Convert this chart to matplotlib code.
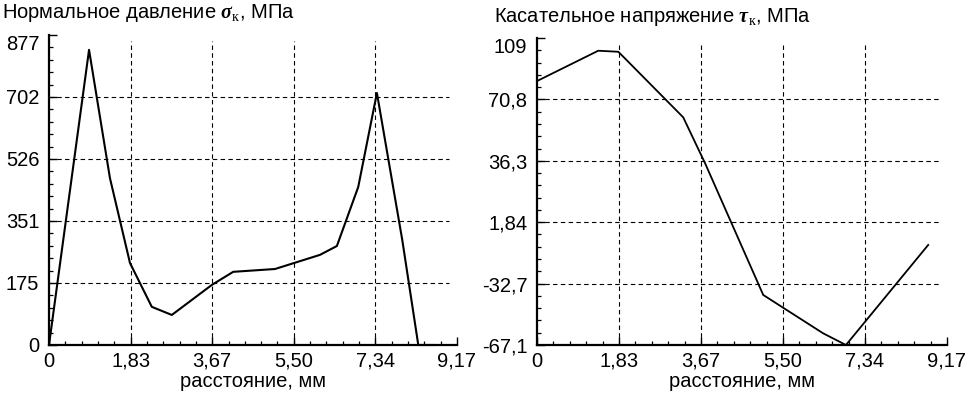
import matplotlib
matplotlib.use("Agg")
import matplotlib.pyplot as plt
import numpy as np

plt.rcParams['font.family'] = ['Liberation Sans', 'DejaVu Sans']
plt.rcParams['mathtext.fontset'] = 'custom'
plt.rcParams['mathtext.rm'] = 'Liberation Serif'
plt.rcParams['mathtext.it'] = 'Liberation Serif:italic'
plt.rcParams['mathtext.bf'] = 'Liberation Serif:bold'
if 'mathtext.bfit' in plt.rcParams:
    plt.rcParams['mathtext.bfit'] = 'Liberation Serif:bold:italic'
    SIG = r'$\mathbfit{\sigma}_{\mathrm{к}}$'
    TAU = r'$\mathbfit{\tau}_{\mathrm{к}}$'
else:
    SIG = r'$\mathbf{\sigma}_{\mathrm{к}}$'
    TAU = r'$\mathbf{\tau}_{\mathrm{к}}$'

# ---- data ----
x_ticks = [0, 1.834, 3.668, 5.502, 7.336, 9.17]
x_tick_labels = ["0", "1,83", "3,67", "5,50", "7,34", "9,17"]

sigma_ticks = [0, 175.4, 350.8, 526.2, 701.6, 877]
sigma_tick_labels = ["0", "175", "351", "526", "702", "877"]

tau_ticks = [-67.1, -31.88, 3.34, 38.56, 73.78, 109]
tau_tick_labels = ["-67,1", "-32,7", "1,84", "36,3", "70,8", "109"]

sigma_x = [0, 0.90, 1.37, 1.82, 2.31, 2.76, 3.66, 4.14, 5.08, 6.09, 6.47, 6.95, 7.37, 7.94, 8.30, 8.65]
sigma_y = [0, 835, 472, 232, 108, 85, 170, 207, 215, 255, 280, 447, 713, 297, 0, 0]

tau_x = [0, 1.37, 1.82, 3.27, 3.76, 5.06, 6.40, 6.91, 8.75]
tau_y = [84.3, 101.7, 101.1, 63.5, 37.1, -38.4, -60.4, -67.1, -9.7]

title_left = "Нормальное давление " + SIG + ", МПа"
title_right = "Касательное напряжение " + TAU + ", МПа"
xlabel = "расстояние, мм"

fig = plt.figure(figsize=(9.75, 3.96), dpi=100)
axL = fig.add_axes([49/975, 51/396, 408/975, 310/396])
axR = fig.add_axes([537/975, 51/396, 410/975, 307/396])

def style(ax, yt, ytl):
    ax.set_xlim(x_ticks[0], x_ticks[-1])
    ax.set_ylim(yt[0], yt[-1])
    for s in ['top', 'right']:
        ax.spines[s].set_visible(False)
    for s in ['left', 'bottom']:
        ax.spines[s].set_linewidth(1.6)
    ax.set_xticks(x_ticks)
    ax.set_xticklabels(x_tick_labels)
    ax.set_yticks(yt)
    ax.set_yticklabels(ytl)
    ax.xaxis.set_minor_locator(matplotlib.ticker.AutoMinorLocator(5))
    ax.yaxis.set_minor_locator(matplotlib.ticker.AutoMinorLocator(5))
    ax.tick_params(which='major', direction='in', length=6, width=1.0, labelsize=14.5, colors='k')
    ax.tick_params(which='minor', direction='in', length=3, width=0.9)
    ax.tick_params(axis='y', which='major', pad=7)
    ax.tick_params(axis='x', which='major', pad=5)
    for v in yt[1:-1]:
        ax.axhline(v, xmin=0, xmax=0.98, ls=(0, (4, 3)), lw=0.8, color='k', zorder=1)
    for v in x_ticks[1:-1]:
        ax.axvline(v, ymin=0, ymax=0.98, ls=(0, (4, 3)), lw=0.8, color='k', zorder=1)
    ax.set_xlabel(xlabel, fontsize=14.5, labelpad=1)
    ax.patch.set_visible(False)
    ax.get_yticklabels()[-1].set_va('top')

style(axL, sigma_ticks, sigma_tick_labels)
style(axR, tau_ticks, tau_tick_labels)

axL.plot(sigma_x, sigma_y, color='k', lw=1.5, zorder=3, clip_on=False)
axR.plot(tau_x, tau_y, color='k', lw=1.3, zorder=3, clip_on=False)

fig.text(2/975, 1 - 18/396, title_left, fontsize=14.5, ha='left', va='baseline')
fig.text(494/975, 1 - 21.5/396, title_right, fontsize=14.5, ha='left', va='baseline')

fig.savefig("out.png", dpi=100)
